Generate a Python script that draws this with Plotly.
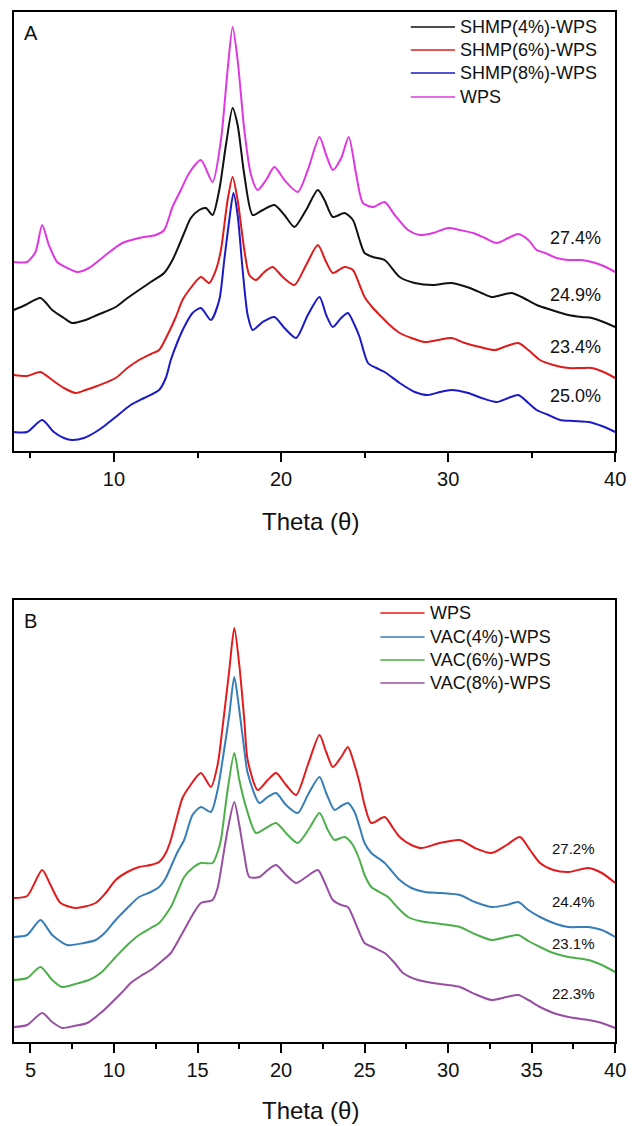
import plotly.graph_objects as go

# ---------------- Panel A data (theta, relative intensity) ----------------
theta_a_wps = [4.0, 4.8, 5.3, 5.7, 6.1, 6.6, 7.2, 7.8, 8.5, 9.5, 10.5, 11.5, 12.5, 13.0, 13.5, 14.0, 14.5, 15.2, 15.9, 16.4,
               16.8, 17.1, 17.4, 17.8, 18.2, 18.6, 19.1, 19.6, 20.2, 21.0, 21.6, 22.3, 22.7, 23.1, 23.6, 24.05, 24.5, 24.9, 25.5, 26.2,
               26.8, 27.6, 28.3, 29.1, 30.0, 30.7, 31.5, 32.2, 32.9, 33.6, 34.2, 34.8, 35.3, 35.8, 36.5, 37.2, 38.0, 38.6, 39.3, 40.0]
int_a_wps = [189, 189, 199, 226, 206, 189, 183, 179, 183, 196, 208, 213, 216, 221, 244, 261, 278, 291, 269, 311,
             381, 424, 391, 321, 276, 261, 271, 284, 271, 259, 281, 314, 296, 281, 293, 314, 276, 248, 244, 249,
             236, 221, 216, 218, 223, 221, 218, 213, 208, 213, 217, 211, 201, 198, 193, 191, 191, 189, 185, 179]

theta_a_s4 = [4.0, 4.7, 5.6, 6.3, 7.0, 7.5, 8.3, 9.0, 10.1, 10.8, 11.5, 12.2, 13.0, 13.5, 13.9, 14.2, 14.6, 15.1, 15.5, 15.9,
              16.3, 16.7, 17.1, 17.4, 17.8, 18.3, 18.9, 19.6, 20.2, 20.8, 21.5, 22.2, 22.6, 23.1, 23.8, 24.3, 24.7, 25.0, 25.5, 26.2,
              27.1, 28.0, 29.1, 30.2, 31.3, 32.0, 32.6, 33.2, 33.8, 34.4, 35.3, 36.2, 37.2, 38.0, 38.6, 39.3, 40.0]
int_a_s4 = [141, 146, 153, 141, 133, 128, 131, 136, 144, 153, 161, 169, 178, 191, 206, 218, 233, 241, 243, 236,
            261, 306, 343, 326, 276, 236, 241, 246, 236, 224, 241, 261, 251, 234, 238, 231, 211, 198, 194, 191,
            174, 168, 166, 168, 163, 158, 154, 156, 158, 154, 146, 141, 136, 134, 133, 129, 124]

theta_a_s6 = [4.0, 4.8, 5.6, 6.3, 7.0, 7.7, 8.3, 9.0, 10.1, 10.8, 11.5, 12.2, 12.7, 13.2, 13.7, 14.1, 14.5, 15.2, 15.7, 16.1,
              16.4, 16.8, 17.1, 17.4, 17.8, 18.1, 18.5, 19.0, 19.5, 20.1, 20.8, 21.5, 22.2, 22.7, 23.1, 23.8, 24.3, 24.7, 25.0, 25.5,
              25.9, 26.5, 27.1, 27.8, 28.6, 29.4, 30.2, 31.0, 31.9, 32.8, 33.5, 34.2, 34.8, 35.5, 36.3, 37.2, 38.0, 38.6, 39.3, 40.0]
int_a_s6 = [76, 75, 79, 71, 63, 58, 61, 65, 73, 83, 91, 97, 101, 116, 134, 151, 161, 174, 168, 181,
            201, 251, 274, 251, 201, 176, 171, 179, 184, 174, 166, 186, 206, 189, 178, 184, 181, 166, 154, 143,
            136, 126, 118, 113, 109, 111, 113, 108, 104, 101, 105, 108, 101, 91, 86, 83, 83, 83, 79, 73]

theta_a_s8 = [4.0, 4.8, 5.7, 6.4, 7.0, 7.5, 8.2, 8.9, 9.5, 10.1, 11.0, 11.8, 12.7, 13.1, 13.4, 13.8, 14.2, 14.7, 15.2, 15.8,
              16.3, 16.6, 16.9, 17.15, 17.4, 17.7, 18.0, 18.3, 18.9, 19.6, 20.2, 20.9, 21.6, 22.3, 22.7, 23.1, 23.6, 24.0, 24.4, 24.7,
              25.2, 25.7, 26.2, 27.1, 28.0, 28.8, 29.5, 30.2, 31.2, 32.0, 32.9, 33.6, 34.2, 34.8, 35.3, 36.0, 36.7, 37.5, 38.4, 39.2, 40.0]
int_a_s8 = [19, 19, 31, 19, 13, 11, 13, 19, 26, 34, 46, 53, 61, 73, 91, 109, 124, 138, 143, 131,
            151, 191, 231, 258, 236, 181, 136, 121, 129, 134, 123, 113, 136, 154, 136, 124, 133, 138, 126, 114,
            88, 83, 79, 68, 59, 56, 59, 61, 58, 53, 49, 53, 56, 48, 41, 36, 31, 30, 29, 25, 19]

# ---------------- Panel B data ----------------
theta_b_wps = [4.0, 4.8, 5.7, 6.2, 6.8, 7.7, 8.9, 9.5, 10.1, 10.8, 11.5, 12.2, 12.7, 13.1, 13.4, 13.8, 14.1, 14.5, 15.2, 15.8,
               16.2, 16.5, 16.9, 17.2, 17.5, 17.8, 18.0, 18.6, 19.2, 19.7, 20.3, 20.9, 21.6, 22.3, 22.7, 23.1, 23.6, 24.0, 24.4, 24.7,
               25.0, 25.4, 26.2, 26.7, 27.1, 27.8, 28.4, 29.5, 30.7, 31.6, 32.6, 33.5, 34.3, 34.9, 35.5, 36.3, 37.2, 38.4, 39.2, 40.0]
int_b_wps = [144, 146, 172, 157, 139, 134, 139, 149, 162, 170, 175, 177, 180, 189, 202, 227, 244, 255, 269, 255,
             277, 315, 372, 414, 377, 322, 282, 252, 262, 269, 257, 247, 277, 307, 290, 275, 285, 295, 277, 259,
             237, 219, 225, 214, 205, 197, 194, 199, 202, 194, 189, 197, 205, 192, 179, 172, 170, 174, 169, 159]

theta_b_v4 = [4.0, 4.8, 5.6, 6.3, 7.2, 8.2, 8.9, 9.5, 10.1, 10.8, 11.5, 12.2, 12.7, 13.1, 13.4, 13.8, 14.2, 14.7, 15.2, 15.8,
              16.2, 16.5, 16.9, 17.2, 17.5, 17.8, 18.0, 18.7, 19.2, 19.7, 20.3, 21.0, 21.6, 22.3, 22.7, 23.2, 23.6, 24.0, 24.4, 24.7,
              25.0, 25.4, 26.2, 27.1, 27.8, 28.6, 29.6, 30.7, 31.6, 32.6, 33.5, 34.2, 34.8, 35.5, 36.3, 37.2, 38.4, 39.2, 40.0]
int_b_v4 = [105, 107, 122, 107, 97, 99, 102, 110, 122, 134, 145, 150, 155, 164, 175, 190, 202, 227, 235, 230,
            252, 282, 327, 365, 332, 292, 269, 239, 245, 249, 237, 229, 247, 265, 249, 232, 236, 239, 230, 215,
            199, 189, 179, 162, 154, 150, 149, 147, 140, 135, 137, 140, 132, 125, 119, 115, 115, 112, 105]

theta_b_v6 = [4.0, 4.8, 5.6, 6.3, 6.9, 7.9, 8.5, 9.2, 10.1, 10.8, 11.5, 12.2, 12.7, 13.4, 13.8, 14.2, 14.7, 15.2, 15.9, 16.2,
              16.4, 16.8, 17.2, 17.5, 17.9, 18.5, 19.1, 19.7, 20.4, 21.0, 21.7, 22.3, 22.8, 23.2, 23.8, 24.3, 24.7, 25.0, 25.4, 26.4,
              27.0, 27.6, 28.3, 29.1, 30.0, 30.7, 31.6, 32.6, 33.5, 34.2, 34.8, 35.5, 36.3, 37.2, 38.4, 39.2, 40.0]
int_b_v6 = [62, 64, 75, 62, 55, 59, 62, 69, 85, 97, 107, 114, 119, 135, 150, 165, 174, 179, 179, 190,
            202, 252, 289, 262, 235, 209, 214, 219, 207, 199, 214, 229, 212, 202, 205, 197, 182, 167, 155, 145,
            134, 125, 121, 119, 117, 115, 108, 102, 105, 107, 101, 95, 89, 85, 82, 77, 70]

theta_b_v8 = [4.0, 4.8, 5.7, 6.3, 6.9, 7.6, 8.4, 9.2, 9.9, 10.5, 11.0, 11.6, 12.2, 12.8, 13.4, 13.8, 14.2, 14.7, 15.2, 15.9,
              16.2, 16.4, 16.8, 17.2, 17.5, 17.8, 18.1, 18.7, 19.2, 19.7, 20.3, 20.9, 21.5, 22.2, 22.6, 23.1, 23.6, 24.0, 24.5, 25.0,
              25.6, 26.2, 26.8, 27.3, 28.2, 29.1, 30.0, 30.7, 31.6, 32.6, 33.5, 34.2, 34.8, 35.5, 36.3, 37.2, 38.4, 39.2, 40.0]
int_b_v8 = [15, 17, 29, 20, 14, 16, 19, 29, 40, 50, 59, 66, 72, 80, 89, 100, 112, 127, 139, 142,
            154, 172, 212, 240, 217, 187, 165, 165, 172, 177, 167, 159, 165, 172, 160, 142, 137, 135, 117, 99,
            94, 89, 79, 69, 62, 59, 57, 55, 48, 42, 45, 47, 42, 35, 29, 25, 22, 19, 14]

# labels
names_a = ["SHMP(4%)-WPS", "SHMP(6%)-WPS", "SHMP(8%)-WPS", "WPS"]
colors_a = ["#111111", "#e01b1b", "#1a1ac8", "#e038e0"]
cryst_a = ["24.9%", "23.4%", "25.0%", "27.4%"]
cryst_a_y = [156, 104, 55, 213]

names_b = ["WPS", "VAC(4%)-WPS", "VAC(6%)-WPS", "VAC(8%)-WPS"]
colors_b = ["#e41a1c", "#377eb8", "#4daf4a", "#984ea3"]
cryst_b = ["27.2%", "24.4%", "23.1%", "22.3%"]
cryst_b_y = [194, 141, 99, 49]

FONT = "Liberation Sans, Arial, sans-serif"
W, H = 638, 1126

def px(x):
    return x / W

def py(y):
    return 1 - y / H

fig = go.Figure()

series_a = [(theta_a_s4, int_a_s4), (theta_a_s6, int_a_s6), (theta_a_s8, int_a_s8), (theta_a_wps, int_a_wps)]
for (xs, ys), nm, c in zip(series_a, names_a, colors_a):
    fig.add_trace(go.Scatter(x=xs, y=ys, mode="lines", name=nm,
                             line=dict(color=c, width=2, shape="spline", smoothing=0.7),
                             xaxis="x", yaxis="y", showlegend=False))

series_b = [(theta_b_wps, int_b_wps), (theta_b_v4, int_b_v4), (theta_b_v6, int_b_v6), (theta_b_v8, int_b_v8)]
for (xs, ys), nm, c in zip(series_b, names_b, colors_b):
    fig.add_trace(go.Scatter(x=xs, y=ys, mode="lines", name=nm,
                             line=dict(color=c, width=2, shape="spline", smoothing=0.7),
                             xaxis="x2", yaxis="y2", showlegend=False))

xdom = [px(14), px(626)]
ydom_a = [py(451), py(12)]
ydom_b = [py(1042), py(600)]

common_x = dict(range=[4, 40], showline=True, linecolor="black", linewidth=2, mirror=True,
                ticks="outside", ticklen=9, tickwidth=1.5, tickcolor="black", showgrid=False, zeroline=False,
                tickfont=dict(family=FONT, size=20, color="#111"))
common_y = dict(showline=True, linecolor="black", linewidth=2, mirror=True, showticklabels=False,
                ticks="", showgrid=False, zeroline=False)

fig.update_layout(
    width=W, height=H, margin=dict(l=0, r=0, t=0, b=0),
    paper_bgcolor="white", plot_bgcolor="white", showlegend=False,
    xaxis=dict(domain=xdom, anchor="y", tickvals=[10, 20, 30, 40],
               minor=dict(tickvals=[5, 15, 25, 35], ticks="outside", ticklen=5, tickwidth=1.5, tickcolor="black"),
               **common_x),
    yaxis=dict(domain=ydom_a, anchor="x", range=[0, 439], **common_y),
    xaxis2=dict(domain=xdom, anchor="y2", tickvals=[5, 10, 15, 20, 25, 30, 35, 40],
                minor=dict(tickvals=[7.5, 12.5, 17.5, 22.5, 27.5, 32.5, 37.5], ticks="outside", ticklen=5,
                           tickwidth=1.5, tickcolor="black"),
                **common_x),
    yaxis2=dict(domain=ydom_b, anchor="x2", range=[0, 442], **common_y),
)

annotations = []
shapes = []

# panel letters
annotations.append(dict(text="A", x=px(22), y=py(33), xref="paper", yref="paper", xanchor="left", yanchor="middle",
                        showarrow=False, font=dict(family=FONT, size=20, color="#111")))
annotations.append(dict(text="B", x=px(22), y=py(621), xref="paper", yref="paper", xanchor="left", yanchor="middle",
                        showarrow=False, font=dict(family=FONT, size=20, color="#111")))

# axis titles
for yy in (521, 1110):
    annotations.append(dict(text="Theta (θ)", x=px(316), y=py(yy), xref="paper", yref="paper",
                            xanchor="center", yanchor="middle", showarrow=False,
                            font=dict(family=FONT, size=24, color="#111")))

# legends (manual, placed as in the reference)
leg_a_rows = [27, 50, 73, 97]
for nm, c, ry in zip(names_a, colors_a, leg_a_rows):
    shapes.append(dict(type="line", xref="paper", yref="paper", x0=px(418), x1=px(463), y0=py(ry), y1=py(ry),
                       line=dict(color=c, width=1.5)))
    annotations.append(dict(text=nm, x=px(466), y=py(ry), xref="paper", yref="paper", xanchor="left",
                            yanchor="middle", showarrow=False, font=dict(family=FONT, size=18, color="#111")))

leg_b_rows = [613, 637, 660, 683]
for nm, c, ry in zip(names_b, colors_b, leg_b_rows):
    shapes.append(dict(type="line", xref="paper", yref="paper", x0=px(387), x1=px(432), y0=py(ry), y1=py(ry),
                       line=dict(color=c, width=1.5)))
    annotations.append(dict(text=nm, x=px(436), y=py(ry), xref="paper", yref="paper", xanchor="left",
                            yanchor="middle", showarrow=False, font=dict(family=FONT, size=18, color="#111")))

# crystallinity labels
for t, yv in zip(cryst_a, cryst_a_y):
    annotations.append(dict(text=t, x=37.6, y=yv, xref="x", yref="y", xanchor="center", yanchor="middle",
                            showarrow=False, font=dict(family=FONT, size=18, color="#111")))
for t, yv in zip(cryst_b, cryst_b_y):
    annotations.append(dict(text=t, x=37.5, y=yv, xref="x2", yref="y2", xanchor="center", yanchor="middle",
                            showarrow=False, font=dict(family=FONT, size=15, color="#111")))

fig.update_layout(annotations=annotations, shapes=shapes)

fig.write_html("out.html")
